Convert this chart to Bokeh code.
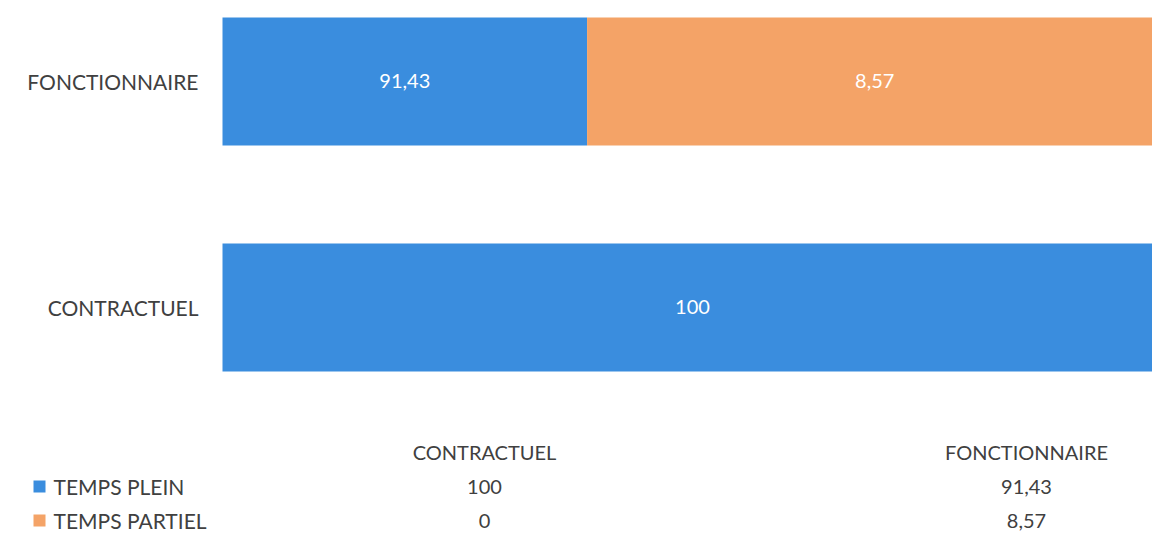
from bokeh.plotting import figure
from bokeh.models import Range1d, ColumnDataSource
from bokeh.core.properties import value
from bokeh.embed import file_html
from bokeh.resources import INLINE

# Data
categories = ["CONTRACTUEL", "FONCTIONNAIRE"]
series_names = ["TEMPS PLEIN", "TEMPS PARTIEL"]
temps_plein = [100, 91.43]
temps_partiel = [0, 8.57]
series_colors = ["#3A8DDE", "#F4A367"]

# Value axis: starts at 86; 86 sits 222 px from the left edge, 14 units span 940 px
axis_min = 86
W, H = 1152, 533
plot_left = 222
px_per_unit = 940 / 14
x_start = axis_min - plot_left / px_per_unit
x_end = axis_min + (W - plot_left) / px_per_unit

FONT = "Lato"
TEXT_DARK = "#404040"


def fmt(v):
    if float(v).is_integer():
        return str(int(v))
    return f"{v:.2f}".replace(".", ",")


p = figure(width=W, height=H, output_backend="svg", toolbar_location=None,
           x_range=Range1d(x_start, x_end), y_range=Range1d(-1.0, 1.358),
           min_border=0, x_axis_location=None, y_axis_location=None)
p.outline_line_color = None
p.grid.visible = False
p.background_fill_color = "white"
p.border_fill_color = "white"
# pixel-like helper ranges for the labels and the data table
p.extra_x_ranges = {"px": Range1d(0, W)}
p.extra_y_ranges = {"px": Range1d(H, 0)}

# ---------- stacked bars ----------
ys = list(range(len(categories)))
series = [temps_plein, temps_partiel]
cum = [0] * len(categories)
label_x, label_y, label_t = [], [], []
for vals, color in zip(series, series_colors):
    rights = [c + v for c, v in zip(cum, vals)]
    lefts = [max(c, axis_min) for c in cum]
    src = ColumnDataSource(dict(y=ys, left=lefts, right=rights))
    p.hbar(y="y", left="left", right="right", height=0.566, source=src,
           fill_color=color, line_color=None)
    for y, l, r, v in zip(ys, lefts, rights, vals):
        if v > 0:
            label_x.append((l + r) / 2)
            label_y.append(y)
            label_t.append(fmt(v))
    cum = rights

p.text(x=label_x, y=label_y, text=label_t, text_color="white",
       text_font=value(FONT), text_font_size="20px",
       text_align="center", text_baseline="middle")

# category labels to the left of the bars
p.text(x=[198] * len(categories), y=ys, text=categories, x_range_name="px",
       text_color=TEXT_DARK, text_font=value(FONT), text_font_size="21px",
       text_align="right", text_baseline="middle")

# ---------- data table ----------
col_start, col_w = 213, 542
header_y = 451
row_y = [486, 520]
col_x = [col_start + (i + 0.5) * col_w for i in range(len(categories))]

p.text(x=col_x, y=[header_y] * len(categories), text=categories,
       x_range_name="px", y_range_name="px",
       text_color=TEXT_DARK, text_font=value(FONT), text_font_size="20px",
       text_align="center", text_baseline="middle")

for r, (name, vals, color) in enumerate(zip(series_names, series, series_colors)):
    p.scatter(x=[39], y=[row_y[r]], x_range_name="px", y_range_name="px",
              marker="square", size=12, fill_color=color, line_color=None)
    p.text(x=[53], y=[row_y[r]], text=[name], x_range_name="px", y_range_name="px",
           text_color=TEXT_DARK, text_font=value(FONT), text_font_size="21px",
           text_align="left", text_baseline="middle")
    p.text(x=col_x, y=[row_y[r]] * len(vals), text=[fmt(v) for v in vals],
           x_range_name="px", y_range_name="px",
           text_color=TEXT_DARK, text_font=value(FONT), text_font_size="20px",
           text_align="center", text_baseline="middle")

open("out.html", "w").write(file_html(p, INLINE))
